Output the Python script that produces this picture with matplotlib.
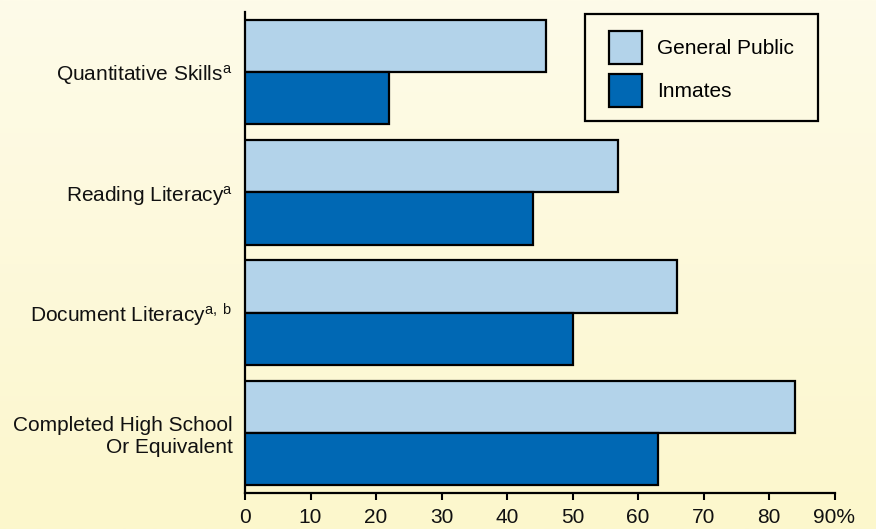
import matplotlib
matplotlib.use("Agg")
import matplotlib.pyplot as plt
import matplotlib.patches as mpatches
import numpy as np

# colours
LIGHT = "#B3D3EA"
DARK = "#0068B4"
TOP_BG = np.array([254, 251, 233]) / 255
BOT_BG = np.array([252, 247, 204]) / 255

plt.rcParams["font.family"] = ["Liberation Sans", "DejaVu Sans"]
plt.rcParams["mathtext.fontset"] = "custom"
plt.rcParams["mathtext.rm"] = "Liberation Sans"
plt.rcParams["mathtext.it"] = "Liberation Sans"

# data
categories = [
    "Quantitative Skills$^{\\mathrm{a}}$",
    "Reading Literacy$^{\\mathrm{a}}$",
    "Document Literacy$^{\\mathrm{a,\\ b}}$",
    "Completed High School\nOr Equivalent",
]
general_public = [46, 57, 66, 84]
inmates = [22, 44, 50, 63]
xticks = [0, 10, 20, 30, 40, 50, 60, 70, 80, 90]
xtick_labels = ["0", "10", "20", "30", "40", "50", "60", "70", "80", "90%"]

W, H = 876, 529
FS = 15
fig = plt.figure(figsize=(W / 100, H / 100), dpi=100)

# gradient background
bg = fig.add_axes([0, 0, 1, 1], zorder=-10)
grad = np.linspace(0, 1, 256)[:, None, None]
img = TOP_BG[None, None, :] * (1 - grad) + BOT_BG[None, None, :] * grad
bg.imshow(img, aspect="auto", extent=[0, 1, 0, 1])
bg.axis("off")

# header, cut off at the top edge as in the source
fig.text(14 / W, 1 + 4.5 / H, "(Percent of adults)", fontsize=FS, color="#222222",
         ha="left", va="baseline")

left, right = 245 / W, 834.5 / W
top, bottom = 1 - 12 / H, 1 - 493 / H
ax = fig.add_axes([left, bottom, right - left, top - bottom])
ax.patch.set_alpha(0)

y = np.arange(len(categories))
h = 0.435
ax.barh(y - h / 2, general_public, height=h, color=LIGHT, edgecolor="black",
        linewidth=1.6, label="General Public", zorder=3)
ax.barh(y + h / 2, inmates, height=h, color=DARK, edgecolor="black",
        linewidth=1.6, label="Inmates", zorder=3)

ax.set_ylim(3.5, -0.5)
ax.set_xlim(0, 90)
ax.set_yticks(y)
ax.set_yticklabels(categories, fontsize=FS, color="#111111", ha="right",
                   multialignment="right")
ax.tick_params(axis="y", length=0, pad=9)
ax.set_xticks(xticks)
ax.set_xticklabels(xtick_labels, fontsize=FS, color="#111111")
ax.tick_params(axis="x", direction="out", length=5, width=1.5, pad=6)

for s in ["top", "right"]:
    ax.spines[s].set_visible(False)
for s in ["left", "bottom"]:
    ax.spines[s].set_linewidth(1.6)
    ax.spines[s].set_color("black")

# legend entries without frame, frame drawn as its own box
axw, axh = 834.5 - 245, 493 - 12
ax.legend(loc="upper left",
          bbox_to_anchor=((609 - 245) / axw, 1 - (31 - 12) / axh),
          fontsize=FS, frameon=False,
          handlelength=1.6, handleheight=2.05, labelspacing=0.5,
          borderpad=0, handletextpad=0.7, borderaxespad=0)
fig.add_artist(mpatches.Rectangle((585 / W, 1 - 121 / H), (818 - 585) / W, (121 - 14) / H,
                                  transform=fig.transFigure, fill=False,
                                  edgecolor="black", linewidth=1.6))

fig.savefig("out.png", dpi=100)
